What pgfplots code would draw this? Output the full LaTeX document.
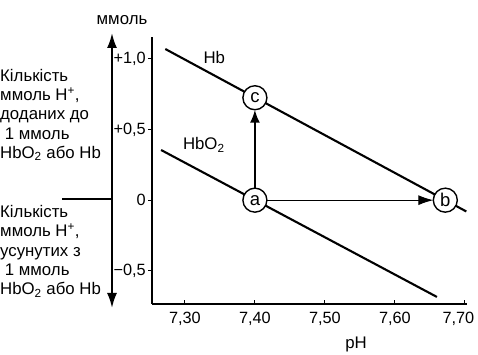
\documentclass[border=0pt]{standalone}
\usepackage{pgfplots}
\pgfplotsset{compat=1.18}
\usepackage{fontspec}
\setmainfont{Liberation Sans}
\usetikzlibrary{arrows.meta}
\begin{document}
\fontsize{16.8}{19.3}\selectfont
\begin{tikzpicture}
\useasboundingbox (0pt,0pt) rectangle (478pt,355pt);
\begin{axis}[
  at={(152pt,51pt)}, anchor=south west,
  scale only axis, width=315pt, height=267pt,
  xmin=7.253, xmax=7.703, ymin=-0.735, ymax=1.155,
  axis x line*=bottom, axis y line*=left,
  axis line style={line width=1.4pt, -},
  xtick={7.3,7.4,7.5,7.6,7.7},
  xticklabels={{7,30},{7,40},{7,50},{7,60},{\hspace{-13pt}7,70}},
  ytick={-0.5,0,0.5,1},
  yticklabels={{−0,5},{0},{+0,5},{+1,0}},
  tick align=inside, major tick length=4pt,
  ytick style={xshift=-4pt},
  tick style={black, line width=0.9pt},
  tick label style={font=\fontsize{16.3}{18}\selectfont},
  xticklabel style={yshift=-6pt, inner sep=2pt},
  yticklabel style={inner sep=2pt, xshift=-4pt},
  clip=false,
]
\addplot[black, line width=2.1pt] coordinates {(7.272,1.07) (7.702,-0.08)};
\addplot[black, line width=2.1pt] coordinates {(7.266,0.355) (7.660,-0.685)};
\addplot[black, line width=2pt, -{Latex[length=13pt,width=10pt]}, shorten >=12pt, shorten <=12pt] coordinates {(7.40,0) (7.40,0.725)};
\addplot[black, line width=0.9pt, -{Latex[length=15pt,width=10pt]}, shorten >=12pt, shorten <=12pt] coordinates {(7.40,0) (7.672,0)};
\addplot[only marks, mark=*, mark size=12pt, mark options={fill=white, draw=black, line width=1.4pt},
  nodes near coords, point meta=explicit symbolic, nodes near coords align={center},
  every node near coord/.append style={font=\fontsize{18.5}{20}\selectfont}]
  coordinates {(7.40,0) [a] (7.672,0) [b] (7.40,0.725) [c]};
\node at (axis cs:7.342,1.013) {Hb};
\node at (axis cs:7.327,0.39) {HbO\textsubscript{2}};
\end{axis}
\draw[line width=2pt, {Latex[length=15pt,width=10pt]}-{Latex[length=15pt,width=10pt]}] (112pt,47pt) -- (112pt,322pt);
\draw[line width=1.2pt] (62pt,156pt) -- (112pt,156pt);
\node at (122pt,335pt) {ммоль};
\node[anchor=west, align=left, inner sep=0pt] at (0pt,240pt) {Кількість\\ммоль H\textsuperscript{+},\\доданих до\\\ 1 ммоль\\HbO\textsubscript{2} або Hb};
\node[anchor=west, align=left, inner sep=0pt] at (0pt,103.5pt) {Кількість\\ммоль H\textsuperscript{+},\\усунутих з\\\ 1 ммоль\\HbO\textsubscript{2} або Hb};
\node at (356pt,11pt) {pH};
\end{tikzpicture}
\end{document}
